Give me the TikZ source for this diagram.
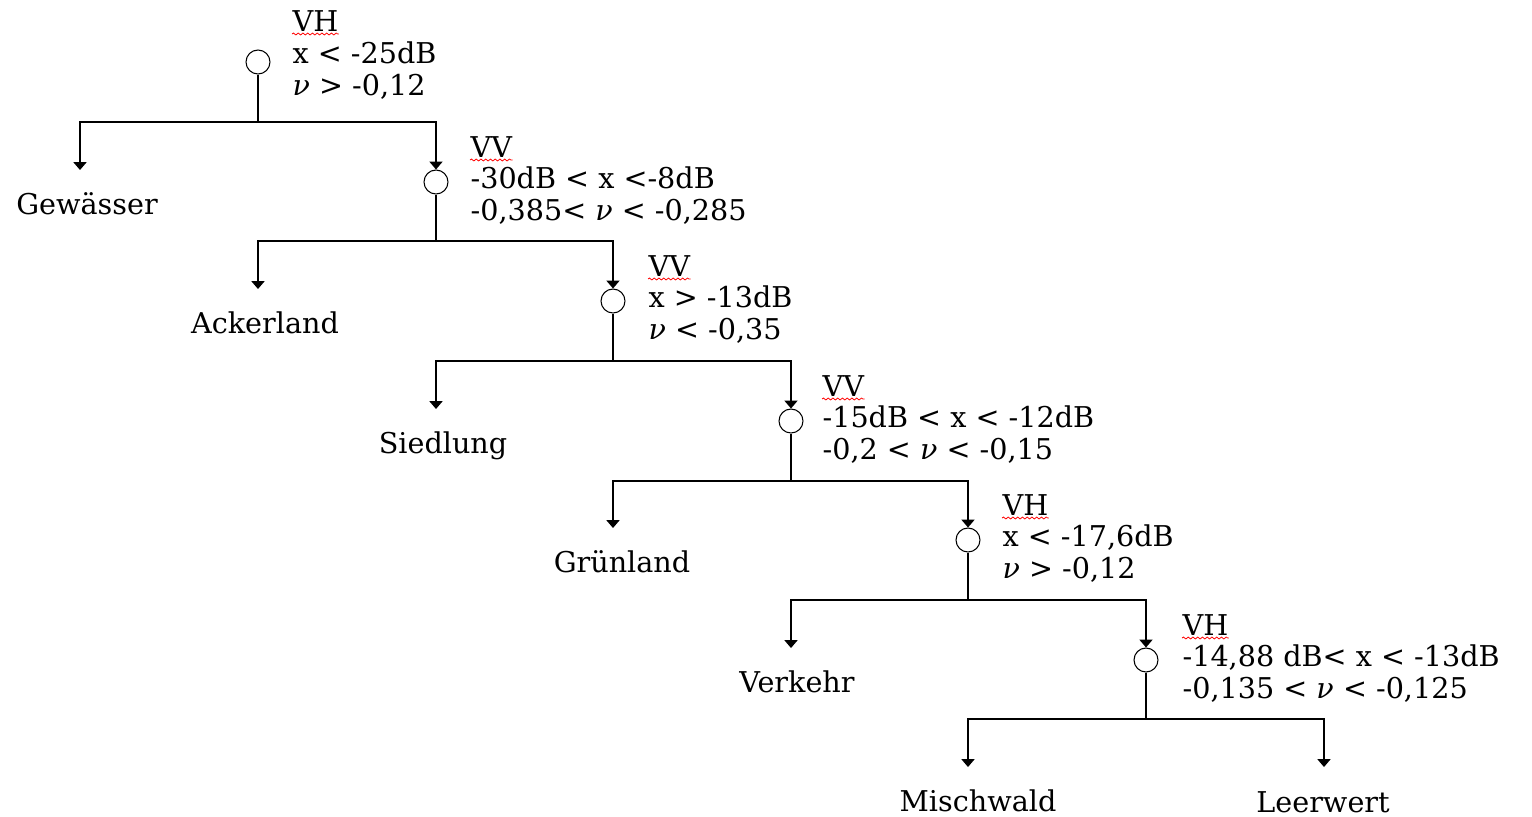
\documentclass[tikz,border=0pt]{standalone}
\usepackage{fontspec}
\setmainfont{DejaVu Serif}
\usetikzlibrary{arrows.meta, calc, decorations.pathmorphing}

\begin{document}
\begin{tikzpicture}[
    x=0.02cm, y=-0.02cm,
    >={Triangle[width=7.5pt, length=4.5pt]},
    every node/.style={font=\fontsize{16.3}{18.2}\selectfont},
    line width=0.7pt,
    split/.style={draw, circle, minimum size=0.48cm, inner sep=0pt, line width=0.6pt},
    key/.style={anchor=base west, inner sep=0pt},
    cond/.style={anchor=north west, inner sep=0pt, align=left},
    leaf/.style={anchor=base, inner sep=0pt},
    branch/.style={-{Triangle[width=7.5pt, length=4.5pt]}},
    squiggle/.style={red, line width=0.45pt, decorate,
        decoration={snake, amplitude=0.55pt, segment length=2.7pt}},
]
\useasboundingbox (0,0) rectangle (1532,816);

% Decision points
\node[split] (d1) at (258,62) {};
\node[split] (d2) at (436,182) {};
\node[split] (d3) at (613,301) {};
\node[split] (d4) at (791,421) {};
\node[split] (d5) at (968,540) {};
\node[split] (d6) at (1146,660) {};

% Channel and thresholds
\node[key] (k1) at (292,31) {VH};
\node[cond] (c1) at (292,41) {x < -25dB\\\textit{ν} > -0,12};
\node[key] (k2) at (470,157) {VV};
\node[cond] (c2) at (470,166) {-30dB < x <-8dB\\-0,385< \textit{ν} < -0,285};
\node[key] (k3) at (648,276) {VV};
\node[cond] (c3) at (648,285) {x > -13dB\\\textit{ν} < -0,35};
\node[key] (k4) at (822,396) {VV};
\node[cond] (c4) at (822,405) {-15dB < x < -12dB\\-0,2 < \textit{ν} < -0,15};
\node[key] (k5) at (1002,515) {VH};
\node[cond] (c5) at (1002,524) {x < -17,6dB\\\textit{ν} > -0,12};
\node[key] (k6) at (1182,635) {VH};
\node[cond] (c6) at (1182,644) {-14,88 dB< x < -13dB\\-0,135 < \textit{ν} < -0,125};

% Spell-check marks
\foreach \k in {k1,k2,k3,k4,k5,k6}
    \draw[squiggle] ($(\k.base west)+(0,3)$) -- ($(\k.base east)+(0,3)$);

% Classes
\node[leaf] (l1) at (87,214) {Gewässer};
\node[leaf] (l2) at (265,333) {Ackerland};
\node[leaf] (l3) at (443,453) {Siedlung};
\node[leaf] (l4) at (622,572) {Grünland};
\node[leaf] (l5) at (797,692) {Verkehr};
\node[leaf] (l6) at (978,811) {Mischwald};
\node[leaf] (l7) at (1323,812) {Leerwert};

% Forks and arrow ends
\coordinate (j1) at (258,122);
\coordinate (j2) at (436,241);
\coordinate (j3) at (613,361);
\coordinate (j4) at (791,481);
\coordinate (j5) at (968,600);
\coordinate (j6) at (1146,719);
\coordinate (t1) at (80,170);
\coordinate (t2) at (258,289);
\coordinate (t3) at (436,409);
\coordinate (t4) at (613,528);
\coordinate (t5) at (791,648);
\coordinate (t6) at (968,767);
\coordinate (t7) at (1324,767);

% Branches
\draw (d1) -- (j1);
\draw[branch] (j1) -| (t1);
\draw[branch] (j1) -| (d2);
\draw (d2) -- (j2);
\draw[branch] (j2) -| (t2);
\draw[branch] (j2) -| (d3);
\draw (d3) -- (j3);
\draw[branch] (j3) -| (t3);
\draw[branch] (j3) -| (d4);
\draw (d4) -- (j4);
\draw[branch] (j4) -| (t4);
\draw[branch] (j4) -| (d5);
\draw (d5) -- (j5);
\draw[branch] (j5) -| (t5);
\draw[branch] (j5) -| (d6);
\draw (d6) -- (j6);
\draw[branch] (j6) -| (t6);
\draw[branch] (j6) -| (t7);

\end{tikzpicture}
\end{document}
